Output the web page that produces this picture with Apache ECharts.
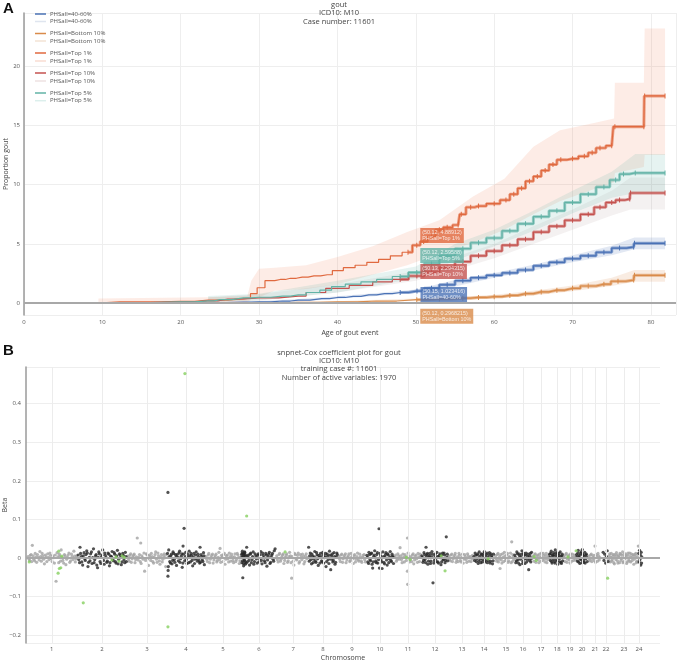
<!DOCTYPE html>
<html>
<head>
<meta charset="utf-8">
<script src="https://cdn.jsdelivr.net/npm/echarts@6/dist/echarts.min.js"></script>
<style>html,body{margin:0;padding:0;background:#fff}#main{width:678px;height:665px}</style>
</head>
<body>
<div id="main"></div>
<script>
// ---- panel A: cumulative incidence by PHS group ----
var groups = ['PHSall=40-60%', 'PHSall=Bottom 10%', 'PHSall=Top 1%', 'PHSall=Top 10%', 'PHSall=Top 5%'];

var ageMid = [0, 15, 23.5, 28, 30, 33, 35, 38, 40, 42, 44, 46, 48, 50.15, 52, 54, 56, 58, 60, 62, 64, 66, 68, 70, 72, 74, 76, 77.8, 77.9, 81.8];
var propMid = [0, 0.01, 0.05, 0.08, 0.1, 0.18, 0.25, 0.38, 0.48, 0.58, 0.7, 0.8, 0.9, 1.023416, 1.25, 1.55, 1.9, 2.15, 2.35, 2.55, 2.8, 3.15, 3.45, 3.75, 4.0, 4.3, 4.65, 4.75, 5.05, 5.05];

var ageBot = [0, 23.5, 30, 35, 40, 45, 50.12, 53, 56, 58, 60, 62, 64, 66, 68, 70, 72, 74, 75.8, 77.8, 77.9, 81.8];
var propBot = [0, 0.01, 0.03, 0.06, 0.1, 0.18, 0.2968215, 0.35, 0.42, 0.48, 0.55, 0.65, 0.8, 0.95, 1.1, 1.25, 1.45, 1.6, 1.85, 1.95, 2.35, 2.35];

var ageTop1 = [0, 9.4, 9.5, 15, 20, 23.5, 28.5, 29.3, 30.2, 31.3, 32.7, 34, 35.5, 37, 38.7, 40, 41.5, 43, 44.5, 46, 47.5, 49, 50.12, 51, 52, 53, 54, 55.4, 55.8, 57, 58, 60, 61.5, 62.5, 63.5, 64.5, 65.5, 66.5, 67.5, 68.5, 70, 71.5, 72.5, 73.5, 75, 75.4, 79.1, 79.2, 81.8];
var propTop1 = [0, 0, 0.1, 0.12, 0.15, 0.25, 0.4, 0.8, 1.3, 1.9, 2.0, 2.1, 2.2, 2.3, 2.4, 2.75, 3.0, 3.2, 3.45, 3.7, 4.0, 4.3, 4.88912, 5.2, 5.6, 6.2, 6.4, 6.6, 7.5, 8.1, 8.2, 8.4, 8.7, 9.2, 9.7, 10.3, 10.7, 11.2, 11.7, 12.1, 12.2, 12.4, 12.7, 13.1, 13.3, 14.9, 14.9, 17.5, 17.5];

var ageTop10 = [0, 9.5, 20, 23.5, 26, 30, 35, 37, 40, 43, 46, 48, 50.13, 52, 54, 56, 58, 60, 62, 64, 66, 68, 70, 72, 73.5, 75, 76, 77.3, 77.4, 81.8];
var propTop10 = [0, 0.02, 0.1, 0.2, 0.35, 0.45, 0.6, 0.9, 1.25, 1.5, 1.8, 2.0, 2.294315, 2.6, 3.0, 3.5, 4.0, 4.4, 4.9, 5.4, 6.0, 6.5, 7.0, 7.5, 8.1, 8.5, 8.7, 8.8, 9.3, 9.3];

var ageTop5 = [0, 9.5, 20, 23.5, 25, 28, 30, 33, 35, 37, 38.5, 40, 42, 44, 46, 48, 50.12, 52, 54, 56, 58, 60, 62, 64, 66, 68, 70, 72, 74, 75.5, 76.5, 78, 81.8];
var propTop5 = [0, 0.02, 0.1, 0.2, 0.3, 0.45, 0.5, 0.6, 0.7, 0.9, 1.1, 1.4, 1.6, 1.8, 2.0, 2.25, 2.59588, 3.3, 4.0, 4.6, 5.1, 5.5, 6.1, 6.7, 7.3, 7.8, 8.5, 9.2, 9.8, 10.4, 10.9, 11.0, 11.0];

// confidence bands (lower / upper)
var bandAgeMid = [23.5, 30, 35, 40, 45, 50, 55, 60, 65, 70, 75, 77.9, 81.8];
var bandLoMid = [0, 0.04, 0.15, 0.38, 0.6, 0.9, 1.4, 2.15, 2.75, 3.45, 4.05, 4.55, 4.55];
var bandHiMid = [0.1, 0.18, 0.35, 0.58, 0.85, 1.15, 1.95, 2.55, 3.25, 4.05, 4.85, 5.55, 5.55];

var bandAgeBot = [23.5, 30, 40, 45, 50, 55, 60, 65, 70, 75, 77.9, 81.8];
var bandLoBot = [0, 0, 0.04, 0.1, 0.2, 0.3, 0.42, 0.65, 1.0, 1.45, 1.8, 1.8];
var bandHiBot = [0.03, 0.07, 0.17, 0.28, 0.4, 0.52, 0.7, 1.05, 1.5, 2.15, 2.8, 2.8];

var bandAgeTop1 = [9.5, 23.5, 28.5, 29, 30, 32, 36, 40, 44.5, 48.9, 53, 57.3, 61.3, 65, 68.4, 72.6, 75.3, 75.4, 79.1, 79.2, 81.8];
var bandLoTop1 = [0, 0.05, 0.1, 0.3, 0.5, 1.05, 1.2, 1.6, 2.4, 3.2, 4.2, 5.1, 6.2, 7.5, 8.6, 9.6, 10.2, 11.0, 11.5, 12.5, 12.5];
var bandHiTop1 = [0.4, 0.5, 0.6, 1.9, 2.9, 3.0, 3.2, 3.9, 4.8, 6.0, 7.0, 9.0, 10.5, 13.2, 14.6, 15.2, 15.6, 18.6, 18.6, 23.2, 23.2];

var bandAgeTop10 = [23.5, 30, 40, 50, 55, 60, 65, 70, 75, 77.4, 81.8];
var bandLoTop10 = [0.05, 0.2, 0.9, 1.9, 2.8, 3.8, 5.0, 6.2, 7.4, 7.9, 7.9];
var bandHiTop10 = [0.5, 0.75, 1.6, 2.7, 3.9, 5.0, 6.5, 7.9, 9.5, 10.6, 10.6];

var bandAgeTop5 = [23.5, 30, 40, 50, 55, 60, 65, 70, 75, 78, 81.8];
var bandLoTop5 = [0.1, 0.25, 0.9, 2.1, 3.6, 4.8, 6.1, 7.6, 8.9, 9.3, 9.3];
var bandHiTop5 = [0.6, 0.8, 1.9, 3.1, 5.0, 6.2, 7.8, 9.5, 11.1, 12.6, 12.6];

// hover readouts at age ~50
var hoverAge = [50.15, 50.12, 50.12, 50.13, 50.12];
var hoverProp = [1.023416, 0.2968215, 4.88912, 2.294315, 2.59588];

// ---- panel B: snpnet-Cox coefficients ----
var chromLabels = ['1','2','3','4','5','6','7','8','9','10','11','12','13','14','15','16','17','18','19','20','21','22','23','24'];
var chromTicks = [126, 372, 592, 782, 963, 1139, 1306, 1452, 1594, 1731, 1868, 2000, 2132, 2240, 2347, 2430, 2518, 2597, 2660, 2719, 2782, 2836, 2924, 2997];

var betaGrey = [
  [10,.004],[18,-.006],[25,.009],[31,.033],[38,-.003],[45,.012],[52,-.011],[60,.002],[68,.017],[75,-.008],[82,.006],[90,-.015],[98,.003],[106,.011],[113,-.004],[120,.007],[128,-.009],[135,.001],[147,-.060],[152,.014],[160,-.012],[166,.005],[172,.021],[180,-.006],[188,.009],[195,-.017],[202,.002],[210,.013],[218,-.007],[226,.004],[234,.018],[241,-.010],[247,.006],
  [498,.005],[505,-.008],[512,.011],[519,-.002],[526,.007],[533,-.012],[540,.003],[544,.052],[548,-.005],[555,.009],[561,.039],[563,-.014],[570,.001],[577,.013],[580,-.034],[585,-.006],[592,.008],[599,-.019],[606,.004],[613,.012],[620,-.009],[627,.002],[634,.016],[641,-.011],[648,.006],[655,-.016],[662,.009],[669,-.003],[676,.011],[683,-.022],
  [880,.004],[887,-.009],[894,.012],[901,-.003],[908,.007],[915,-.013],[922,.001],[929,.010],[936,-.006],[943,.015],[949,.025],[952,-.011],[959,.003],[966,.009],[973,-.016],[980,.006],[987,-.002],[994,.013],[1001,-.008],[1008,.004],[1015,-.012],[1022,.011],[1029,-.004],[1036,.008],[1043,-.014],[1049,.002],
  [1226,.006],[1233,-.010],[1240,.012],[1247,-.003],[1254,.008],[1261,-.014],[1268,.002],[1275,.011],[1282,-.007],[1289,.015],[1296,-.012],[1299,-.052],[1303,.004],[1310,-.018],[1317,.009],[1324,-.005],[1331,.013],[1338,-.009],[1345,.003],[1352,.010],[1359,-.015],[1366,.006],[1373,-.002],
  [1530,.005],[1537,-.009],[1544,.010],[1551,-.002],[1558,.007],[1565,-.012],[1572,.002],[1579,.011],[1586,-.006],[1593,.004],[1600,-.014],[1607,.009],[1614,-.003],[1621,.013],[1628,-.008],[1635,.003],[1642,-.011],[1649,.007],[1656,-.004],
  [1804,.004],[1811,-.008],[1818,.011],[1825,-.003],[1829,.027],[1832,.006],[1839,-.012],[1846,.002],[1853,.009],[1860,-.006],[1865,.052],[1865,-.034],[1866,-.068],[1868,.013],[1875,-.010],[1882,.003],[1889,.008],[1896,-.015],[1903,.005],[1910,-.002],[1917,.012],[1924,-.009],[1930,.004],
  [2068,.005],[2075,-.007],[2082,.010],[2089,-.002],[2096,.007],[2103,-.011],[2110,.003],[2117,.012],[2124,-.006],[2131,.002],[2138,-.013],[2145,.009],[2152,-.004],[2159,.011],[2166,-.008],[2173,.004],[2180,-.002],
  [2296,.006],[2302,-.008],[2308,.012],[2313,-.003],[2318,-.027],[2321,.009],[2327,-.013],[2333,.002],[2339,.015],[2345,-.006],[2351,.008],[2357,-.011],[2363,.004],[2369,.013],[2375,.042],[2378,-.009],[2383,.005],
  [2478,.005],[2484,-.008],[2490,.011],[2496,-.002],[2502,.008],[2508,-.012],[2514,.003],[2520,.013],[2526,-.006],[2532,.007],[2538,-.010],[2544,.012],[2550,-.004],[2555,.006],
  [2630,.006],[2636,-.009],[2642,.012],[2648,-.003],[2654,.008],[2660,-.013],[2666,.004],[2672,.010],[2678,-.006],[2684,.003],
  [2752,.005],[2758,-.007],[2764,.010],[2770,-.002],[2776,.007],[2782,.031],[2785,-.011],[2791,.004],[2797,.012],[2803,-.005],
  [2852,.006],[2857,-.010],[2862,.012],[2867,-.004],[2872,.009],[2877,-.015],[2882,.003],[2887,.014],[2892,-.007],[2897,.006],[2902,-.012],[2907,.010],[2912,-.002],[2917,.016],[2922,-.009],[2927,.004],[2932,.011],[2937,-.014],[2942,.007],[2947,-.005],[2952,.013],[2957,-.010],[2962,.002],[2967,.009],[2972,-.016],[2977,.005],[2982,.012],[2987,-.008],[2994,.031]
];

var betaGreyDense = [
  [14,-.002],[21,.007],[28,-.009],[35,.006],[42,-.007],[49,.003],[56,.009],[64,-.005],[71,.004],[79,.012],[86,-.003],[94,.008],[102,-.009],[110,.002],[117,.013],[124,-.002],[131,.006],[139,-.013],[143,.008],[156,.003],[163,.010],[169,-.008],[176,.002],[184,-.013],[191,.006],[199,-.003],[206,.008],[214,-.011],[222,.010],[230,-.004],[238,.005],[244,-.002],
  [501,-.002],[508,.007],[515,-.011],[522,.003],[529,.010],[536,-.004],[551,.002],[559,-.009],[566,.006],[573,-.003],[589,.011],[596,-.002],[603,.008],[610,-.006],[617,.004],[624,-.013],[631,.009],[638,-.003],[645,.013],[652,-.007],[659,.002],[666,-.010],[673,.006],[680,.001],[686,.009],
  [884,-.003],[891,.008],[898,-.012],[905,.002],[912,.010],[919,-.005],[926,.006],[933,-.010],[940,.002],[947,-.004],[956,.007],[963,-.009],[970,.012],[977,-.003],[984,.008],[991,-.010],[998,.004],[1005,.010],[1012,-.006],[1019,.003],[1026,-.009],[1033,.012],[1040,.001],[1046,-.007],
  [1229,-.004],[1237,.009],[1244,-.008],[1251,.003],[1258,.011],[1265,-.006],[1272,.007],[1279,-.011],[1286,.004],[1293,.006],[1306,-.008],[1313,.012],[1320,-.002],[1328,.007],[1335,-.013],[1342,.009],[1349,-.004],[1356,.004],[1363,-.009],[1370,.011],[1376,.002],
  [1534,-.003],[1541,.008],[1548,-.011],[1555,.003],[1562,.011],[1569,-.005],[1576,.006],[1583,-.009],[1590,.012],[1597,-.002],[1604,.006],[1611,-.010],[1618,.004],[1625,-.005],[1632,.010],[1639,-.007],[1646,.002],[1653,.009],[1660,-.010],
  [1807,.008],[1815,-.004],[1822,.006],[1836,-.004],[1843,.010],[1850,-.010],[1857,.004],[1872,.006],[1879,-.004],[1886,-.009],[1893,.011],[1900,-.005],[1907,.008],[1914,-.011],[1920,.003],[1927,.010],
  [2071,-.004],[2078,.008],[2085,-.009],[2092,.003],[2099,.012],[2106,-.005],[2113,-.009],[2120,.007],[2127,-.010],[2134,.010],[2141,-.003],[2148,.004],[2155,-.011],[2162,.006],[2169,.001],[2176,-.009],[2183,.007],
  [2299,-.002],[2305,.009],[2310,-.010],[2316,.004],[2324,-.005],[2330,.011],[2336,-.009],[2342,.006],[2348,-.002],[2354,.012],[2360,-.007],[2366,.002],[2372,-.012],[2380,.009],[2385,-.004],
  [2481,.002],[2487,.009],[2493,-.011],[2499,.005],[2505,-.004],[2511,.010],[2517,-.008],[2523,.003],[2529,.012],[2535,-.003],[2541,.006],[2547,-.012],[2552,.001],
  [2633,.001],[2639,.009],[2645,-.011],[2651,.004],[2657,-.005],[2663,.011],[2669,-.008],[2675,.002],[2681,.008],[2687,-.004],
  [2755,-.003],[2761,.008],[2767,-.009],[2773,.003],[2779,-.006],[2788,.009],[2794,-.008],[2800,.006],[2806,.001],
  [2849,-.004],[2854,.011],[2859,.002],[2864,-.008],[2869,.005],[2874,-.012],[2879,.009],[2884,-.004],[2889,.008],[2894,-.013],[2899,.003],[2904,.012],[2909,-.006],[2914,.007],[2919,-.012],[2924,.010],[2929,-.002],[2934,.006],[2939,-.010],[2944,.013],[2949,-.008],[2954,.004],[2959,.011],[2964,-.006],[2969,.008],[2974,-.003],[2979,.010],[2984,-.012],[2989,.004],[2992,-.010]
];

var betaBlack = [
  [255,.008],[262,-.012],[264,.028],[270,.004],[277,-.018],[284,.014],[290,-.006],[297,.019],[303,-.022],[310,.002],[316,.011],[323,-.014],[330,.024],[336,-.004],[343,.009],[350,-.025],[356,.016],[362,-.009],[369,.003],[375,.021],[382,-.016],[388,.007],[395,-.011],[401,.013],[408,-.020],[414,.005],[421,.017],[427,-.007],[434,.010],[440,-.013],[447,.020],[453,-.003],[460,.008],[466,-.017],[473,.012],[479,-.005],[486,.015],[491,-.009],
  [692,.012],[694,.170],[694,-.047],[695,-.032],[696,-.022],[698,.021],[703,-.009],[708,.006],[714,-.015],[719,.016],[725,-.004],[731,.009],[736,-.019],[742,.002],[748,.013],[753,-.011],[759,.005],[764,-.024],[768,.031],[770,.010],[773,.077],[776,-.007],[781,.015],[787,-.014],[792,.003],[798,.018],[804,-.010],[809,.007],[815,-.020],[821,.012],[826,-.003],[832,.016],[838,-.008],[843,.004],[849,-.013],[851,.028],[856,.009],[862,-.005],[868,.014],[872,-.017],
  [1054,.009],[1056,-.012],[1058,.018],[1060,-.051],[1062,.003],[1064,-.020],[1066,.011],[1068,-.006],[1070,.014],[1072,-.016],[1075,.005],[1079,.028],[1082,-.010],[1087,.008],[1093,-.018],[1099,.013],[1105,-.004],[1111,.016],[1117,-.009],[1124,.006],[1130,-.013],[1136,.011],[1142,-.002],[1148,.017],[1154,-.015],[1160,.007],[1166,-.007],[1172,.012],[1178,-.021],[1184,.004],[1190,.015],[1196,-.011],[1202,.008],[1208,-.003],[1214,.019],[1218,.024],
  [1382,.028],[1385,-.008],[1390,.013],[1396,-.015],[1401,.005],[1407,-.003],[1412,.017],[1418,-.011],[1423,.008],[1429,-.019],[1434,.002],[1440,.012],[1445,-.007],[1451,.015],[1456,-.013],[1462,.004],[1467,-.022],[1473,.010],[1478,-.004],[1484,.018],[1490,-.030],[1495,.006],[1500,-.010],[1506,.014],[1511,-.016],[1517,.003],[1522,.009],
  [1667,.007],[1672,-.010],[1677,.015],[1682,-.004],[1687,.011],[1692,-.016],[1695,-.026],[1700,.004],[1705,.019],[1710,-.008],[1715,.009],[1720,-.013],[1726,.076],[1728,-.026],[1731,.012],[1736,-.005],[1741,-.027],[1745,.016],[1750,-.011],[1755,.003],[1760,.014],[1766,-.018],[1771,.008],[1776,-.002],[1781,.017],[1787,-.009],[1792,.005],[1797,-.014],
  [1936,.006],[1941,-.011],[1946,.014],[1951,-.004],[1956,.028],[1960,.009],[1965,-.016],[1970,.003],[1975,.012],[1980,-.008],[1985,.017],[1990,-.064],[1994,-.013],[1999,.006],[2004,-.002],[2009,.015],[2014,-.010],[2019,.004],[2024,.011],[2029,-.017],[2034,.008],[2039,-.005],[2044,.013],[2049,-.012],[2055,.055],[2058,.002],[2062,-.007],
  [2190,.004],[2196,.013],[2201,-.009],[2206,.008],[2211,-.014],[2216,.016],[2221,-.003],[2226,.011],[2231,-.010],[2236,.005],[2241,.017],[2246,-.006],[2251,.009],[2256,-.012],[2261,.002],[2266,.014],[2271,-.008],[2276,.006],[2281,-.015],[2286,.010],
  [2390,.008],[2395,-.012],[2400,.016],[2405,-.005],[2410,.011],[2415,-.017],[2420,.003],[2425,.019],[2430,-.008],[2435,.007],[2440,-.014],[2445,.013],[2450,-.003],[2455,.010],[2458,-.030],[2463,.005],[2468,-.010],[2472,.015],
  [2560,.010],[2564,-.006],[2568,.018],[2572,-.013],[2576,.005],[2580,.014],[2584,-.009],[2588,.021],[2592,-.004],[2596,.011],[2600,-.016],[2604,.007],[2608,-.002],[2612,.016],[2616,-.011],[2620,.006],[2624,-.007],
  [2692,.009],[2696,-.008],[2700,.020],[2704,.003],[2708,-.014],[2712,.012],[2716,-.004],[2720,.022],[2724,.007],[2728,-.011],[2732,.015],[2736,-.002],[2740,.010],[2744,-.009],
  [2822,.015],[2826,-.006],[2830,.010],[2834,-.013],[2838,.004],[2842,.019],[2846,-.009],
  [2996,.012],[2998,-.010],[3000,.020],[3002,-.004],[3004,.008],[3006,-.018],[3008,.015],[3010,-.013],[3011,.003]
];

var betaBlackDense = [
  [258,-.004],[267,.012],[273,-.010],[280,.006],[287,-.002],[293,.009],[300,.013],[306,-.011],[313,-.007],[320,.016],[326,.001],[333,-.012],[340,.006],[346,-.018],[353,.002],[359,.011],[366,-.014],[372,.008],[379,-.006],[385,.013],[392,.001],[398,-.008],[405,.010],[411,-.012],[418,.004],[424,-.003],[431,.014],[437,-.009],[444,.006],[450,-.015],[457,.011],[463,.002],[470,-.010],[476,.007],[483,-.012],[489,.004],
  [700,.004],[706,-.013],[711,.010],[717,-.006],[722,.012],[728,-.011],[734,.003],[739,.009],[745,-.007],[751,.018],[756,-.002],[762,.011],[767,-.013],[779,.004],[784,-.004],[790,.010],[795,-.012],[801,.006],[807,.012],[812,-.006],[818,.003],[824,-.014],[829,.008],[835,-.001],[841,.010],[846,-.006],[853,-.011],[859,.004],[865,-.009],[870,.006],
  [1055,.002],[1057,.013],[1059,-.007],[1061,.010],[1063,-.014],[1065,.006],[1067,-.002],[1069,.016],[1071,-.009],[1073,.008],[1077,-.013],[1085,.003],[1090,-.006],[1096,.010],[1102,-.012],[1108,.004],[1114,-.016],[1120,.011],[1127,-.002],[1133,.007],[1139,-.010],[1145,.009],[1151,-.006],[1157,.013],[1163,.001],[1169,-.012],[1175,.008],[1181,-.005],[1187,.010],[1193,-.014],[1199,.003],[1205,.012],[1211,-.008],
  [1387,.006],[1393,-.004],[1398,.010],[1404,-.012],[1410,.003],[1415,-.008],[1421,.014],[1426,-.002],[1432,.007],[1437,-.013],[1443,.004],[1448,-.010],[1454,.009],[1459,.001],[1465,.012],[1470,-.009],[1476,.005],[1481,-.014],[1487,.008],[1492,-.003],[1498,.011],[1503,-.006],[1509,.004],[1514,-.011],[1520,.013],
  [1670,.002],[1675,-.014],[1680,.009],[1685,-.007],[1690,.013],[1698,-.010],[1702,.008],[1708,.001],[1713,-.012],[1718,.014],[1723,-.004],[1734,.006],[1739,-.010],[1748,.004],[1753,-.015],[1758,.009],[1763,-.005],[1769,.011],[1774,-.012],[1779,.003],[1784,-.006],[1790,.010],[1795,.002],
  [1939,.001],[1944,-.006],[1949,.009],[1954,-.012],[1958,.004],[1963,.012],[1968,-.008],[1973,.006],[1978,-.014],[1983,.003],[1988,.010],[1997,-.006],[2002,.011],[2007,-.009],[2012,.004],[2017,-.013],[2022,.007],[2027,.001],[2032,-.010],[2037,.013],[2042,-.003],[2047,.008],[2052,-.006],[2060,.010],
  [2193,-.006],[2199,.008],[2204,-.002],[2209,.011],[2214,-.008],[2219,.005],[2224,-.012],[2229,.009],[2234,-.004],[2239,.012],[2244,-.010],[2249,.003],[2254,.013],[2259,-.006],[2264,.008],[2269,-.013],[2274,.011],[2279,.002],[2284,-.007],
  [2393,.002],[2398,-.007],[2403,.011],[2408,-.013],[2413,.006],[2418,-.003],[2423,.010],[2428,-.014],[2433,.013],[2438,-.002],[2443,.008],[2448,-.010],[2453,.004],[2461,-.006],[2466,.012],[2470,-.002],
  [2562,.002],[2566,.012],[2570,-.009],[2574,.008],[2578,-.004],[2582,.009],[2586,-.013],[2590,.006],[2594,.014],[2598,-.008],[2602,.003],[2606,.012],[2610,-.010],[2614,.004],[2618,-.014],[2622,.010],
  [2694,.003],[2698,.013],[2702,-.010],[2706,.007],[2710,-.003],[2714,.016],[2718,-.012],[2722,.010],[2726,-.006],[2730,.004],[2734,-.013],[2738,.008],[2742,.001]
];

var betaGreen = [
  [16,-.010],[157,-.039],[163,-.027],[170,-.025],[160,.018],[175,.005],[280,-.116],[420,-.005],[440,.003],[455,-.008],[470,.006],[480,.002],
  [694,-.178],[777,.478],[1079,.109],[1267,.016],[1860,.002],[1878,-.004],[2030,.006],[2049,-.033],[2260,-.002],[2485,.004],[2495,-.006],[2650,.003],[2690,.019],[2844,-.052]
];

var colors = ['#4a72b5', '#d98b4a', '#e0693f', '#c4524f', '#62b3a6'];
var bandFill = ['rgba(74,114,181,0.16)', 'rgba(217,139,74,0.16)', 'rgba(240,130,90,0.15)', 'rgba(150,120,120,0.10)', 'rgba(98,179,166,0.16)'];
var bandLegend = ['#dfe5ef', '#f3e3d5', '#f8ddd2', '#eee2e2', '#dcefec'];

var lineAge = [ageMid, ageBot, ageTop1, ageTop10, ageTop5];
var lineProp = [propMid, propBot, propTop1, propTop10, propTop5];
var bandAge = [bandAgeMid, bandAgeBot, bandAgeTop1, bandAgeTop10, bandAgeTop5];
var bandLo = [bandLoMid, bandLoBot, bandLoTop1, bandLoTop10, bandLoTop5];
var bandHi = [bandHiMid, bandHiBot, bandHiTop1, bandHiTop10, bandHiTop5];
var hoverShift = [3.5, 16.7, -9.7, -4.5, -17];

var myChart = echarts.init(document.getElementById('main'));
var series = [];

// bands, drawn as one polygon each (upper edge forward, lower edge back)
groups.forEach(function (g, i) {
  series.push({
    name: g + ' band', type: 'custom', xAxisIndex: 0, yAxisIndex: 0, silent: true, z: 1, clip: true,
    data: [[bandAge[i][0], bandLo[i][0]]],
    renderItem: function (params, api) {
      var pts = [];
      bandAge[i].forEach(function (t, k) { pts.push(api.coord([t, bandHi[i][k]])); });
      for (var k = bandAge[i].length - 1; k >= 0; k--) pts.push(api.coord([bandAge[i][k], bandLo[i][k]]));
      return { type: 'polygon', shape: { points: pts }, style: { fill: bandFill[i] } };
    }
  });
});

// zero line A
series.push({
  type: 'scatter', xAxisIndex: 0, yAxisIndex: 0, data: [[0, 0]], symbolSize: 0, silent: true, z: 2,
  markLine: { silent: true, symbol: 'none', label: { show: false }, animation: false,
    lineStyle: { color: '#a8a8a8', width: 2, type: 'solid' }, data: [{ yAxis: 0 }] }
});

// curves
groups.forEach(function (g, i) {
  var pts = lineAge[i].map(function (t, k) { return [t, lineProp[i][k]]; });
  series.push({
    name: g, type: 'line', xAxisIndex: 0, yAxisIndex: 0, step: 'middle',
    symbol: 'none', color: colors[i], lineStyle: { color: colors[i], width: 1.2 }, z: 3,
    data: pts
  });
  series.push({
    name: g + ' censored', type: 'line', xAxisIndex: 0, yAxisIndex: 0, step: 'middle',
    symbol: 'rect', symbolSize: [1, 5], showSymbol: true, color: colors[i],
    itemStyle: { color: colors[i] }, lineStyle: { color: colors[i], width: 3, opacity: 0.6 }, z: 3,
    data: pts.filter(function (p) { return p[0] >= 48; })
  });
});

// hover readouts
series.push({
  name: 'hover', type: 'scatter', xAxisIndex: 0, yAxisIndex: 0, symbolSize: 1, z: 10, silent: true,
  itemStyle: { color: 'rgba(0,0,0,0)' },
  data: groups.map(function (g, i) {
    return {
      value: [hoverAge[i], hoverProp[i]],
      label: {
        show: true, position: 'right', distance: 3, offset: [0, hoverShift[i]],
        formatter: '(' + hoverAge[i] + ', ' + hoverProp[i] + ')\n' + g,
        backgroundColor: colors[i], color: '#fff', fontSize: 5.4, lineHeight: 6.5,
        fontFamily: 'Liberation Sans', padding: [1, 2, 1, 2], align: 'left'
      }
    };
  })
});

// panel B gridlines + zero line
series.push({
  type: 'scatter', xAxisIndex: 1, yAxisIndex: 1, data: [[0, 0]], symbolSize: 0, silent: true, z: 0,
  markLine: { silent: true, symbol: 'none', label: { show: false }, animation: false,
    lineStyle: { color: '#ececec', width: 1, type: 'solid' },
    data: chromTicks.map(function (v) { return { xAxis: v }; }) }
});
series.push({
  type: 'scatter', xAxisIndex: 1, yAxisIndex: 1, data: [[0, 0]], symbolSize: 0, silent: true, z: 1,
  markLine: { silent: true, symbol: 'none', label: { show: false }, animation: false,
    lineStyle: { color: '#a8a8a8', width: 2, type: 'solid' }, data: [{ yAxis: 0 }] }
});
series.push({ name: 'grey', type: 'scatter', xAxisIndex: 1, yAxisIndex: 1, symbolSize: 3.2, z: 3,
  itemStyle: { color: '#a3a3a3' }, data: betaGrey.concat(betaGreyDense) });
series.push({ name: 'black', type: 'scatter', xAxisIndex: 1, yAxisIndex: 1, symbolSize: 3.2, z: 4,
  itemStyle: { color: '#262626' }, data: betaBlack.concat(betaBlackDense) });
series.push({ name: 'green', type: 'scatter', xAxisIndex: 1, yAxisIndex: 1, symbolSize: 3.2, z: 5,
  itemStyle: { color: '#86cf5f' }, data: betaGreen });

// legends: one per row so the pairs can be spaced like the original
var legendRows = [15, 22.5, 34.5, 42, 54, 62, 74, 82, 94, 101.7];
var legends = [];
groups.forEach(function (g, i) {
  [colors[i], bandLegend[i]].forEach(function (c, j) {
    legends.push({
      left: 35, top: legendRows[i * 2 + j] - 4, padding: 0, itemGap: 0,
      itemWidth: 11, itemHeight: 1.5, icon: 'rect', selectedMode: false,
      textStyle: { fontSize: 6, color: '#555', padding: [0, 0, 0, -1] },
      data: [{ name: g, itemStyle: { color: c } }]
    });
  });
});

var axisTxt = { fontSize: 6, color: '#555' };

var option = {
  animation: false,
  textStyle: { fontFamily: 'Open Sans' },
  title: [
    { text: 'gout\nICD10: M10\nCase number: 11601', left: 'center', top: 1, padding: 0,
      textStyle: { fontSize: 7.5, fontWeight: 'normal', color: '#444', lineHeight: 8.2 } },
    { text: 'snpnet-Cox coefficient plot for gout\nICD10: M10\ntraining case #: 11601\nNumber of active variables: 1970',
      left: 'center', top: 348.5, padding: 0,
      textStyle: { fontSize: 7.5, fontWeight: 'normal', color: '#444', lineHeight: 8.3 } }
  ],
  legend: legends,
  grid: [
    { left: 24, top: 13, width: 652, height: 302, outerBoundsMode: 'none' },
    { left: 26, top: 367, width: 634, height: 276, outerBoundsMode: 'none' }
  ],
  xAxis: [
    { type: 'value', gridIndex: 0, min: 0, max: 83.2, interval: 10,
      axisLine: { show: false }, axisTick: { show: false },
      axisLabel: Object.assign({ margin: 4, showMaxLabel: false }, axisTxt),
      splitLine: { lineStyle: { color: '#eeeeee', width: 1 } },
      name: 'Age of gout event', nameLocation: 'middle', nameGap: 14, nameMoveOverlap: false,
      nameTextStyle: { fontSize: 7, color: '#444' } },
    { type: 'value', gridIndex: 1, min: 0, max: 3100,
      axisLine: { show: false }, axisTick: { show: false },
      axisLabel: Object.assign({ margin: 3, customValues: chromTicks,
        formatter: function (v) { var k = chromTicks.indexOf(v); return k >= 0 ? chromLabels[k] : ''; } }, axisTxt),
      splitLine: { show: false },
      name: 'Chromosome', nameLocation: 'middle', nameGap: 11, nameMoveOverlap: false,
      nameTextStyle: { fontSize: 7, color: '#444' } }
  ],
  yAxis: [
    { type: 'value', gridIndex: 0, min: -1, max: 24.5, minInterval: 5, maxInterval: 5,
      axisLine: { show: true, lineStyle: { color: '#9a9a9a', width: 1.5 } }, axisTick: { show: false },
      axisLabel: Object.assign({ margin: 4, showMinLabel: false, showMaxLabel: false }, axisTxt),
      splitLine: { lineStyle: { color: '#eeeeee', width: 1 } },
      name: 'Proportion gout', nameLocation: 'middle', nameGap: 15, nameMoveOverlap: false,
      nameTextStyle: { fontSize: 7, color: '#444' } },
    { type: 'value', gridIndex: 1, min: -0.22, max: 0.495, minInterval: 0.1, maxInterval: 0.1,
      axisLine: { show: true, lineStyle: { color: '#9a9a9a', width: 1.5 } }, axisTick: { show: false },
      axisLabel: Object.assign({ margin: 5, showMinLabel: false, showMaxLabel: false,
        formatter: function (v) { return String(Math.round(v * 10) / 10).replace('-', '\u2212'); } }, axisTxt),
      splitLine: { lineStyle: { color: '#eeeeee', width: 1 } },
      name: 'Beta', nameLocation: 'middle', nameGap: 18, nameMoveOverlap: false,
      nameTextStyle: { fontSize: 7, color: '#444' } }
  ],
  graphic: [
    { type: 'text', left: 3, top: 1, style: { text: 'A', font: 'bold 15px "Liberation Sans"', fill: '#111' } },
    { type: 'text', left: 3, top: 343, style: { text: 'B', font: 'bold 15px "Liberation Sans"', fill: '#111' } }
  ],
  series: series
};

option && myChart.setOption(option);
</script>
</body>
</html>
